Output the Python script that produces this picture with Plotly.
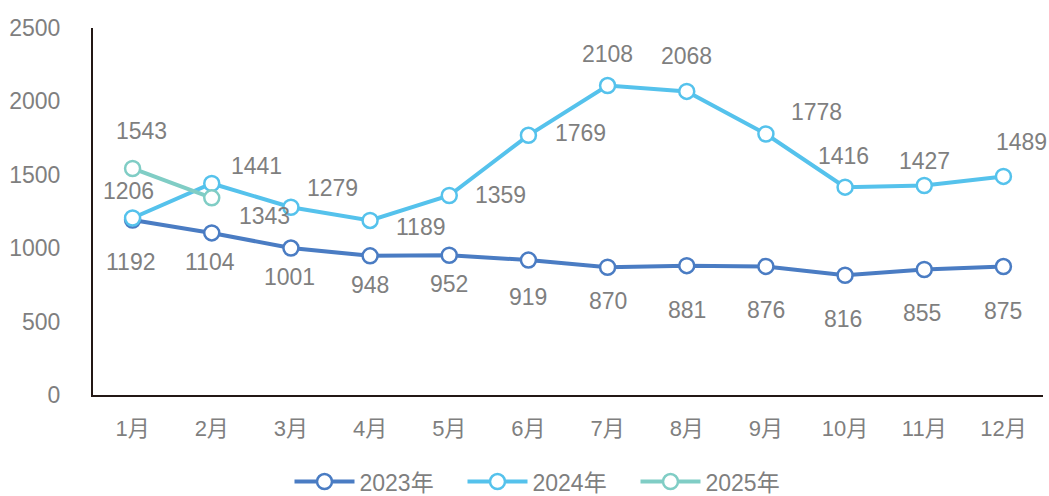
import plotly.graph_objects as go

months = ["1月", "2月", "3月", "4月", "5月", "6月", "7月", "8月", "9月", "10月", "11月", "12月"]
v2023 = [1192, 1104, 1001, 948, 952, 919, 870, 881, 876, 816, 855, 875]
v2024 = [1206, 1441, 1279, 1189, 1359, 1769, 2108, 2068, 1778, 1416, 1427, 1489]
v2025 = [1543, 1343]
months2025 = months[:2]

c2023 = "#4a7cc3"
c2024 = "#55c2ec"
c2025 = "#80cdc5"
txt = "#7f7f7f"
FONT = "Liberation Sans, Noto Sans CJK SC, sans-serif"

# label pixel offsets (dx, dy downwards)
off2023 = [(-2, 42), (-2, 29), (-1, 29), (0, 29), (0, 29), (0, 37), (0, 34), (0, 44), (0, 44), (-2, 44), (-2, 44), (0, 44)]
off2024 = [(-4, -27), (45, -17), (42, -19), (50, 7), (51, -1), (52, -2), (0, -32), (0, -35), (51, -22), (-2, -31), (0, -25), (18, -34)]
off2025 = [(9, -37), (53, 18)]

fig = go.Figure()
for name, xs, ys, col in [("2023年", months, v2023, c2023), ("2024年", months, v2024, c2024), ("2025年", months2025, v2025, c2025)]:
    fig.add_trace(go.Scatter(
        x=xs, y=ys, name=name, mode="lines+markers",
        line=dict(color=col, width=4),
        marker=dict(size=15, color="white", line=dict(color=col, width=2.5)),
    ))

ann = []
for xs, ys, offs in [(months, v2023, off2023), (months, v2024, off2024), (months2025, v2025, off2025)]:
    for x, y, (dx, dy) in zip(xs, ys, offs):
        ann.append(dict(x=x, y=y, xref="x", yref="y", text=str(y), showarrow=False,
                        xshift=dx, yshift=-dy, font=dict(size=23, color=txt, family=FONT)))

fig.update_layout(
    width=1049, height=496,
    margin=dict(l=93, r=6, t=28, b=101, autoexpand=False),
    plot_bgcolor="white", paper_bgcolor="white",
    font=dict(family=FONT, color=txt, size=22),
    annotations=ann,
    showlegend=True,
    legend=dict(orientation="h", x=0.48, xanchor="center", y=-0.236, yanchor="middle",
                font=dict(size=23, color=txt, family=FONT), tracegroupgap=0,
                itemwidth=60, entrywidth=98),
    xaxis=dict(type="category", range=[-0.5, 11.5], showline=True, linecolor="#231815", linewidth=2,
               showgrid=False, ticks="", ticklabelstandoff=13, automargin=False,
               tickfont=dict(size=22, color=txt)),
    yaxis=dict(range=[0, 2500], dtick=500, showline=True, linecolor="#231815", linewidth=2,
               showgrid=False, zeroline=False, ticks="", ticklabelstandoff=26, automargin=False,
               tickfont=dict(size=23, color=txt)),
)

fig.write_html("out.html", config={"displayModeBar": False},
               post_script="document.body.style.margin='0';document.body.style.overflow='hidden';")
